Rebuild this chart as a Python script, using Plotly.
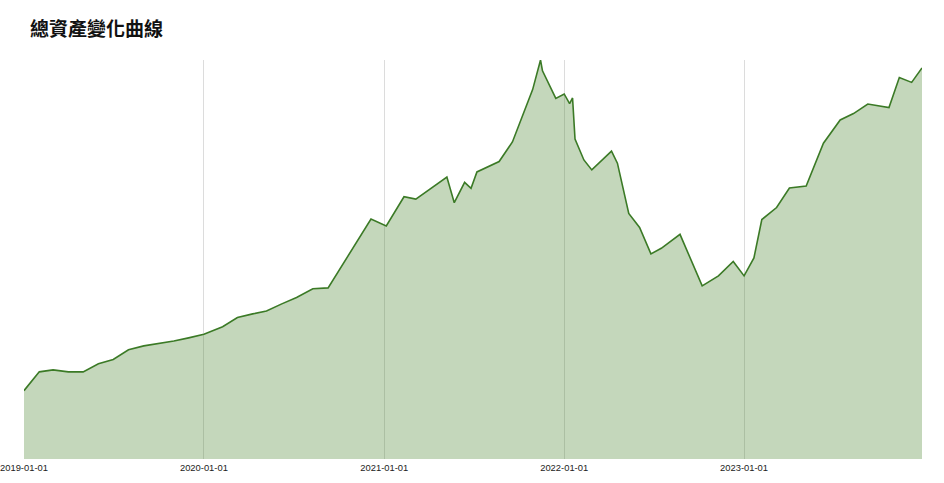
import plotly.graph_objects as go

dates = [
    "2019-01-01", "2019-02-01", "2019-03-01", "2019-04-01", "2019-05-01", "2019-06-01",
    "2019-07-01", "2019-08-01", "2019-09-01", "2019-10-01", "2019-11-01", "2019-12-01",
    "2020-01-01", "2020-02-08", "2020-03-09", "2020-04-09", "2020-05-07", "2020-06-07",
    "2020-07-07", "2020-08-09", "2020-09-09", "2020-12-05", "2021-01-05", "2021-02-10",
    "2021-03-06", "2021-05-08", "2021-05-23", "2021-06-13", "2021-06-26", "2021-07-08",
    "2021-08-22", "2021-09-18", "2021-10-29", "2021-11-14", "2021-11-18", "2021-12-15",
    "2022-01-01", "2022-01-12", "2022-01-18", "2022-01-23", "2022-02-10", "2022-02-26",
    "2022-04-07", "2022-04-19", "2022-05-12", "2022-06-03", "2022-06-26", "2022-07-17",
    "2022-08-24", "2022-10-08", "2022-11-10", "2022-12-10", "2023-01-01", "2023-01-21",
    "2023-02-06", "2023-03-08", "2023-04-03", "2023-05-07", "2023-06-11", "2023-07-15",
    "2023-08-11", "2023-09-09", "2023-10-22", "2023-11-12", "2023-12-07", "2023-12-28",
]
total_assets = [
    171, 218, 223, 218, 218, 238,
    249, 273, 283, 288, 295, 303,
    312, 331, 354, 363, 370, 388,
    404, 426, 428, 600, 583, 656,
    650, 705, 641, 692, 677, 718,
    744, 793, 924, 998, 971, 902,
    913, 889, 903, 800, 748, 723,
    770, 740, 614, 579, 513, 527,
    562, 433, 458, 494, 458, 503,
    599, 629, 678, 683, 790, 848,
    864, 888, 879, 954, 942, 978,
]
tick_vals = ["2019-01-01", "2020-01-01", "2021-01-01", "2022-01-01", "2023-01-01"]
title_text = "總資產變化曲線"

fig = go.Figure(
    go.Scatter(
        x=dates,
        y=total_assets,
        mode="lines",
        fill="tozeroy",
        line=dict(color="#3b7a26", width=1.6),
        fillcolor="rgba(70,130,45,0.32)",
        hoverinfo="x+y",
    )
)

fig.update_layout(
    width=944,
    height=483,
    margin=dict(l=24, r=22, t=60, b=24, autoexpand=False),
    paper_bgcolor="white",
    plot_bgcolor="white",
    showlegend=False,
    title=dict(
        text="<b>" + title_text + "</b>",
        x=30 / 944,
        xanchor="left",
        y=1 - 29 / 483,
        yanchor="middle",
        font=dict(family="Noto Sans CJK TC, Noto Sans CJK SC, sans-serif", size=19, color="#111"),
    ),
    xaxis=dict(
        type="date",
        range=["2019-01-01", "2023-12-28"],
        tickvals=tick_vals,
        ticktext=tick_vals,
        showgrid=True,
        gridcolor="#dcdcdc",
        gridwidth=1,
        zeroline=False,
        showline=False,
        ticks="",
        ticklabelstandoff=2,
        ticklabeloverflow="allow",
        tickfont=dict(family="Liberation Sans, Arial, sans-serif", size=9.4, color="#222"),
    ),
    yaxis=dict(
        range=[0, 998],
        showgrid=False,
        zeroline=False,
        showticklabels=False,
        showline=False,
        ticks="",
    ),
)

fig.write_html(
    "out.html",
    config={"displayModeBar": False},
    post_script="document.body.style.margin='0';document.body.style.overflow='hidden';",
)
